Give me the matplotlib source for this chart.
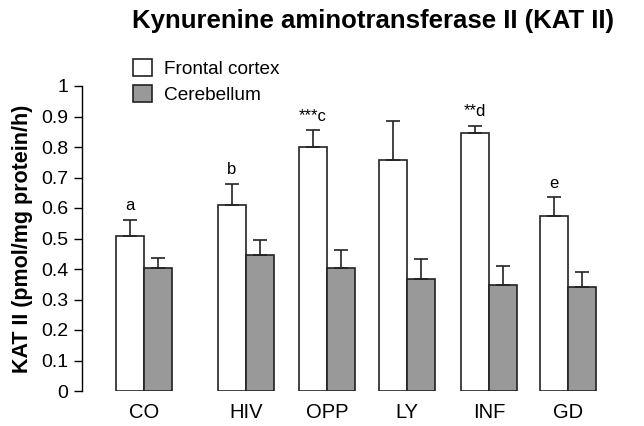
import matplotlib
matplotlib.use("Agg")
import matplotlib.pyplot as plt
from matplotlib.patches import Patch

plt.rcParams['font.family'] = ['Liberation Sans', 'DejaVu Sans']

categories = ["CO", "HIV", "OPP", "LY", "INF", "GD"]
frontal = [0.508, 0.61, 0.80, 0.757, 0.845, 0.575]
frontal_err = [0.052, 0.07, 0.055, 0.128, 0.025, 0.06]
cerebellum = [0.404, 0.447, 0.402, 0.366, 0.346, 0.34]
cerebellum_err = [0.032, 0.048, 0.06, 0.066, 0.065, 0.05]
sig_labels = ["a", "b", "***c", "", "**d", "e"]

# group centres (irregular spacing as in original)
centers = [62, 164, 245, 325, 407, 486]
w = 28

fig = plt.figure(figsize=(6.44, 4.26), dpi=100)
ax = fig.add_axes([82/644, 35/426, 528/644, 305/426])
ax.set_xlim(0, 528)
ax.set_ylim(0, 1)

xf = [c - w/2 for c in centers]
xc = [c + w/2 for c in centers]
ec = "#222222"
ax.bar(xf, frontal, width=w, color="white", edgecolor=ec, linewidth=1.2,
       yerr=[[0]*6, frontal_err], error_kw=dict(ecolor=ec, elinewidth=1.2, capsize=5, capthick=1.2), zorder=2)
ax.bar(xc, cerebellum, width=w, color="#999999", edgecolor=ec, linewidth=1.2,
       yerr=[[0]*6, cerebellum_err], error_kw=dict(ecolor=ec, elinewidth=1.2, capsize=5, capthick=1.2), zorder=2)

for x, v, e, s in zip(xf, frontal, frontal_err, sig_labels):
    if s:
        ax.text(x, v + e + 0.022, s, ha="center", va="bottom", fontsize=12)

for sp in ["top", "right", "bottom"]:
    ax.spines[sp].set_visible(False)
ax.spines["left"].set_linewidth(1.0)
ax.set_yticks([i/10 for i in range(11)])
ax.set_yticklabels(["0", "0.1", "0.2", "0.3", "0.4", "0.5", "0.6", "0.7", "0.8", "0.9", "1"])
ax.tick_params(axis="y", labelsize=14, length=6, width=1.0, pad=4)
ax.set_xticks(centers)
ax.set_xticklabels(categories)
ax.tick_params(axis="x", length=0, labelsize=14.5, pad=9)

ax.set_ylabel("KAT II (pmol/mg protein/h)", fontsize=15.5, fontweight="bold", labelpad=6)
fig.text(373/644, 1 - 21/426, "Kynurenine aminotransferase II (KAT II)", ha="center", va="center",
         fontsize=18.5, fontweight="bold")

handles = [Patch(facecolor="white", edgecolor=ec, linewidth=1.2, label="Frontal cortex"),
           Patch(facecolor="#999999", edgecolor=ec, linewidth=1.2, label="Cerebellum")]
fig.legend(handles=handles, loc="upper left", bbox_to_anchor=(116/644, 1 - 42/426), frameon=False,
           fontsize=13.7, handlelength=1.0, handleheight=1.0, handletextpad=0.6, labelspacing=0.35)

fig.savefig("out.png", dpi=100)
